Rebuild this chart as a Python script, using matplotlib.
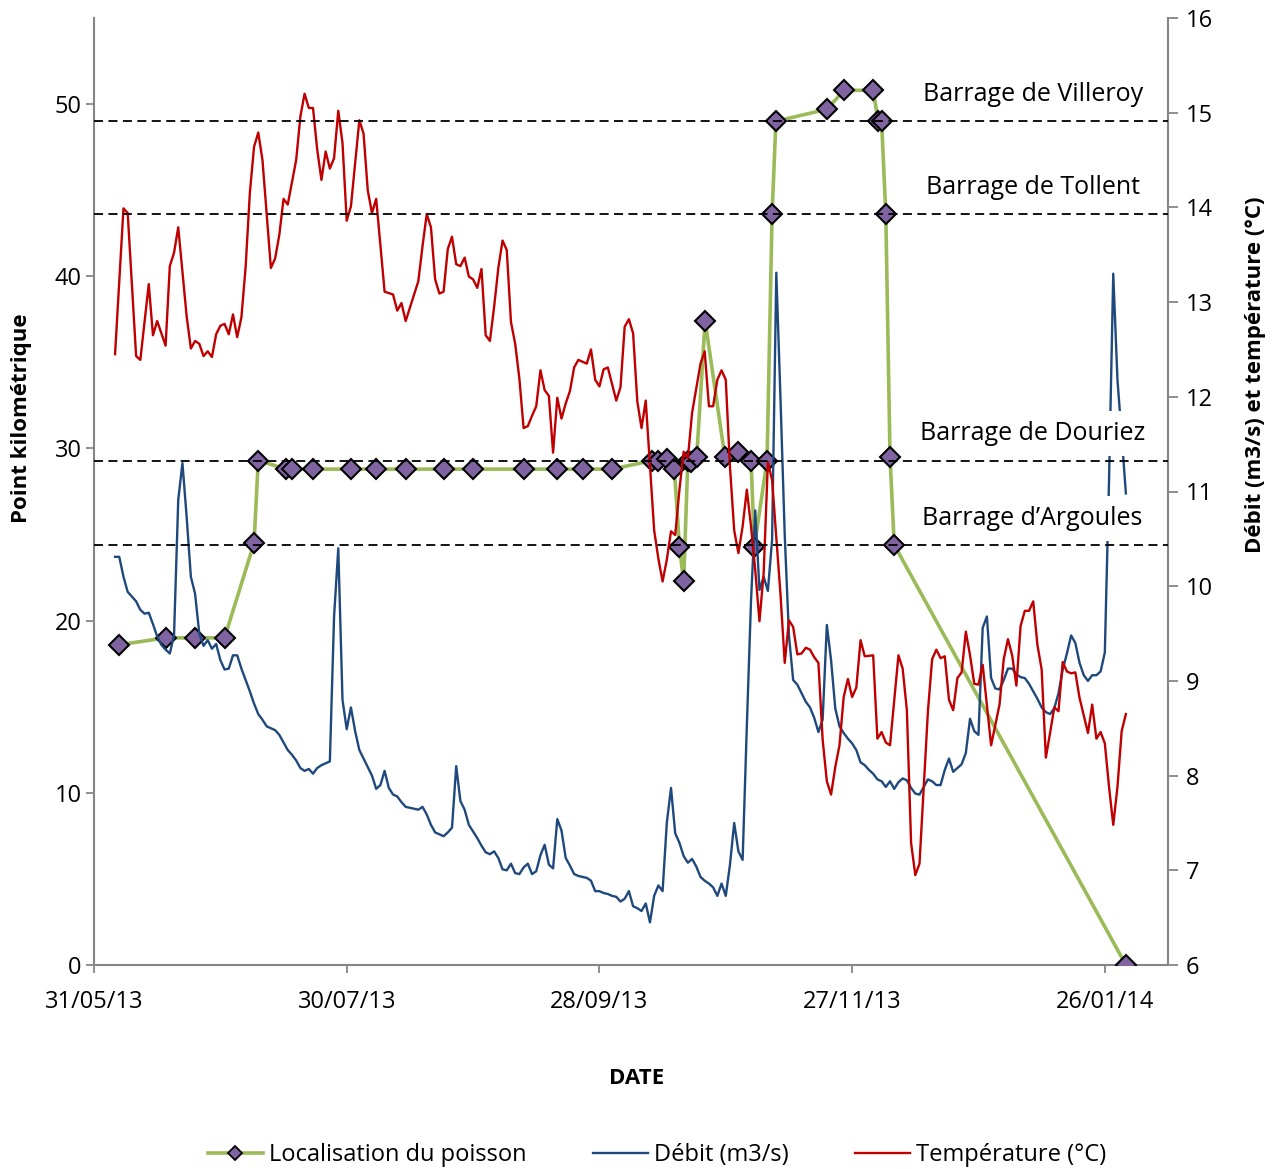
import numpy as np
import matplotlib
matplotlib.use("Agg")
import matplotlib.pyplot as plt
import matplotlib.dates as mdates
from matplotlib.lines import Line2D
from matplotlib.transforms import blended_transform_factory

plt.rcParams['font.family'] = ['Open Sans', 'DejaVu Sans']

# Origine des jours : 31/05/13
debut = np.datetime64('2013-05-31T00:00')

# Localisation du poisson (jours depuis le 31/05/13, point kilométrique)
poisson_jour = [6, 17, 24, 31, 38, 39, 45.7, 46.9, 52, 61, 67, 74, 83, 90, 102, 110, 116, 123,
                132.6, 133.8, 136, 137.8, 139, 140, 141, 141.8, 143.1, 145.1, 149.8, 153, 156,
                156.8, 159.8, 161, 161.9, 174, 178.1, 185, 186.2, 187, 188, 189, 190, 245]
poisson_pk = [18.6, 19.0, 19.0, 19.0, 24.5, 29.3, 28.8, 28.8, 28.8, 28.8, 28.8, 28.8, 28.8, 28.8,
              28.8, 28.8, 28.8, 28.8, 29.3, 29.3, 29.4, 28.8, 24.3, 22.3, 29.3, 29.2, 29.5, 37.4,
              29.5, 29.8, 29.3, 24.3, 29.3, 43.6, 49.0, 49.7, 50.8, 50.8, 49.0, 49.0, 43.6, 29.5,
              24.4, 0.0]

# Débit journalier (m3/s), du jour 5 au jour 245
debit_premier_jour = 5
debit = [10.31, 10.31, 10.10, 9.94, 9.89, 9.84, 9.75, 9.71, 9.72, 9.60,
         9.47, 9.38, 9.33, 9.29, 9.48, 10.91, 11.30, 10.73, 10.10, 9.92,
         9.50, 9.37, 9.43, 9.34, 9.39, 9.22, 9.12, 9.13, 9.27, 9.27,
         9.13, 9.01, 8.89, 8.76, 8.65, 8.59, 8.52, 8.50, 8.48, 8.43,
         8.35, 8.27, 8.22, 8.16, 8.08, 8.05, 8.07, 8.02, 8.08, 8.11,
         8.13, 8.15, 9.68, 10.40, 8.80, 8.49, 8.72, 8.47, 8.27, 8.18,
         8.09, 8.00, 7.86, 7.90, 8.05, 7.87, 7.80, 7.78, 7.72, 7.67,
         7.66, 7.65, 7.64, 7.67, 7.59, 7.48, 7.40, 7.38, 7.36, 7.40,
         7.45, 8.10, 7.73, 7.64, 7.48, 7.41, 7.34, 7.26, 7.19, 7.17,
         7.20, 7.13, 7.01, 7.00, 7.07, 6.97, 6.96, 7.03, 7.07, 6.96,
         6.99, 7.16, 7.27, 7.06, 7.02, 7.54, 7.42, 7.13, 7.05, 6.96,
         6.94, 6.93, 6.92, 6.89, 6.78, 6.78, 6.76, 6.75, 6.73, 6.72,
         6.67, 6.70, 6.78, 6.62, 6.60, 6.57, 6.65, 6.45, 6.73, 6.84,
         6.78, 7.50, 7.87, 7.39, 7.29, 7.15, 7.08, 7.12, 7.04, 6.93,
         6.89, 6.86, 6.82, 6.73, 6.86, 6.73, 7.06, 7.50, 7.20, 7.11,
         8.52, 9.85, 10.80, 9.96, 10.10, 9.95, 10.49, 13.31, 11.97, 10.54,
         9.48, 9.01, 8.96, 8.87, 8.78, 8.72, 8.61, 8.46, 8.59, 9.59,
         9.22, 8.71, 8.52, 8.45, 8.39, 8.34, 8.27, 8.14, 8.11, 8.06,
         8.02, 7.96, 7.94, 7.88, 7.94, 7.86, 7.93, 7.97, 7.95, 7.87,
         7.81, 7.80, 7.88, 7.96, 7.94, 7.90, 7.90, 8.06, 8.18, 8.04,
         8.08, 8.12, 8.24, 8.60, 8.47, 8.43, 9.56, 9.68, 9.03, 8.92,
         8.91, 9.01, 9.13, 9.13, 9.07, 9.04, 9.03, 8.97, 8.89, 8.81,
         8.72, 8.67, 8.65, 8.71, 8.87, 9.12, 9.29, 9.48, 9.40, 9.19,
         9.06, 9.00, 9.06, 9.06, 9.10, 9.30, 11.12, 13.30, 12.18, 11.59,
         10.98]

# Température (°C)
temp_jour = [5, 7, 8, 10, 11, 13, 14, 15, 17, 18, 19, 20, 22, 23, 24, 25, 26, 27, 28, 29,
             30, 31, 32, 33, 34, 35, 36, 37, 38, 39, 40, 42, 43, 44, 45, 46, 48, 49, 50, 51,
             52, 53, 54, 55, 56, 57, 58, 59, 60, 61, 63, 64, 65, 66, 67, 69, 71, 72, 73, 74,
             77, 78, 79, 80, 81, 82, 83, 84, 85, 86, 87, 88, 89, 90, 91, 92, 93, 94, 95, 96,
             97, 98, 99, 100, 101, 102, 103, 104, 105, 106, 107, 108, 109, 110, 111, 112, 113,
             114, 115, 117, 118, 119, 120, 121, 122, 124, 125, 126, 127, 128, 129, 130, 131,
             133, 134, 135, 136, 137, 138, 139, 140, 141, 142, 144, 145, 146, 147, 148, 149,
             150, 151, 152, 153, 154, 155, 156, 157, 158, 159, 160, 161, 163, 164, 165, 166,
             167, 168, 169, 170, 171, 172, 173, 174, 175, 176, 177, 178, 179, 180, 181, 182,
             183, 185, 186, 187, 188, 189, 191, 192, 193, 194, 195, 196, 198, 199, 200, 201,
             202, 203, 204, 205, 206, 207, 208, 209, 210, 211, 213, 215, 216, 217, 218, 219,
             220, 221, 222, 223, 224, 225, 226, 227, 228, 229, 230, 231, 232, 233, 234, 236,
             237, 238, 239, 240, 241, 242, 243, 244, 245]
temp = [12.45, 13.99, 13.94, 12.43, 12.39, 13.19, 12.65, 12.80, 12.54, 13.38, 13.52, 13.79,
        12.85, 12.51, 12.59, 12.56, 12.43, 12.48, 12.42, 12.66,
        12.75, 12.77, 12.66, 12.87, 12.63, 12.84, 13.37, 14.15, 14.64, 14.79, 14.50, 13.36,
        13.46, 13.71, 14.09, 14.03, 14.50, 14.96, 15.20, 15.05,
        15.05, 14.61, 14.29, 14.59, 14.41, 14.52, 15.02, 14.68, 13.86, 14.01, 14.92, 14.78,
        14.18, 13.94, 14.09, 13.11, 13.08, 12.91, 12.99, 12.80,
        13.22, 13.59, 13.93, 13.79, 13.24, 13.09, 13.11, 13.56, 13.69, 13.40, 13.38, 13.47,
        13.27, 13.24, 13.15, 13.35, 12.65, 12.59, 12.95, 13.36,
        13.65, 13.55, 12.79, 12.56, 12.19, 11.67, 11.69, 11.80, 11.90, 12.28, 12.07, 12.01,
        11.41, 11.99, 11.77, 11.93, 12.06,
        12.31, 12.39, 12.35, 12.50, 12.18, 12.11, 12.29, 12.31, 11.96, 12.10, 12.74, 12.82,
        12.67, 11.95, 11.67, 11.96,
        10.59, 10.29, 10.05, 10.28, 10.58, 10.54, 11.02, 11.42, 11.35, 11.83, 12.35, 12.48,
        11.90, 11.90, 12.18, 12.28,
        12.18, 11.26, 10.59, 10.35, 10.63, 11.02, 10.63, 10.17, 9.63, 10.14, 11.31, 11.12,
        9.91, 9.19, 9.64, 9.57,
        9.28, 9.29, 9.35, 9.33, 9.25, 9.19, 8.38, 7.94, 7.80, 8.09, 8.32, 8.83, 9.02, 8.83,
        8.93, 9.43,
        9.26, 9.27, 8.39, 8.46, 8.35, 8.32, 9.27, 9.13, 8.69, 7.29, 6.95, 7.07, 8.68, 9.23,
        9.33, 9.24,
        9.26, 8.80, 8.69, 9.03, 9.09, 9.52, 9.27, 8.97, 8.96, 9.17, 8.32, 8.75, 9.23, 9.44,
        9.27, 8.95,
        9.58, 9.74, 9.74, 9.84, 9.38, 9.12, 8.19, 8.45, 8.72, 8.68, 9.20, 9.10, 9.08, 9.09,
        8.82, 8.45,
        8.75, 8.39, 8.46, 8.34, 7.88, 7.48, 7.88, 8.47, 8.65]

# Barrages (point kilométrique)
barrages = ['Barrage de Villeroy', 'Barrage de Tollent', 'Barrage de Douriez', 'Barrage d\u2019Argoules']
barrages_pk = [49.0, 43.6, 29.3, 24.4]

date_ticks = [0, 60, 120, 180, 240]


def en_dates(jours):
    return debut + (np.asarray(jours, dtype=float) * 1440).round().astype('timedelta64[m]')


vert = '#9BBB59'
violet = '#8064A2'
bleu = '#1F497D'
rouge = '#C00000'
gris = '#868686'

fig = plt.figure(figsize=(12.8, 11.69), dpi=100)
ax = fig.add_axes([94 / 1280, 1 - 965 / 1169, (1168 - 94) / 1280, (965 - 18) / 1169])
ax2 = ax.twinx()

debit_jour = np.arange(debit_premier_jour, debit_premier_jour + len(debit))

l1, = ax.plot(en_dates(poisson_jour), poisson_pk, color=vert, lw=2.6, marker='D', ms=10,
              mfc=violet, mec='black', mew=1.5, zorder=3)
l2, = ax2.plot(en_dates(debit_jour), debit, color=bleu, lw=1.7)
l3, = ax2.plot(en_dates(temp_jour), temp, color=rouge, lw=1.7)

ax.set_ylim(0, 55)
ax.set_yticks(range(0, 51, 10))
ax2.set_ylim(6, 16)
ax2.set_yticks(range(6, 17))
ax.set_xlim(en_dates([0])[0], en_dates([255])[0])
ax.set_xticks(en_dates(date_ticks))
ax.xaxis.set_major_formatter(mdates.DateFormatter('%d/%m/%y'))

for a in (ax, ax2):
    for s in a.spines.values():
        s.set_visible(False)
ax.spines['left'].set_visible(True)
ax.spines['bottom'].set_visible(True)
ax2.spines['right'].set_visible(True)
for s in (ax.spines['left'], ax.spines['bottom'], ax2.spines['right']):
    s.set_color(gris)
    s.set_linewidth(1.5)

ax.tick_params(axis='y', labelsize=17, length=6, width=1.3, color=gris, pad=3)
ax.tick_params(axis='x', labelsize=17, length=6, width=1.3, color=gris, pad=12)
ax2.tick_params(axis='y', labelsize=17, length=7, width=1.3, color=gris, pad=6)

# Barrages : lignes pointillées et étiquettes
trans = blended_transform_factory(ax2.transAxes, ax.transData)
for nom, pk in zip(barrages, barrages_pk):
    ax2.add_artist(Line2D([0, 1], [pk, pk], transform=trans, color='black', lw=1.3,
                          ls=(0, (5, 3)), zorder=6))
    ax2.text(0.874, pk + 1.55, nom, transform=trans, ha='center', va='center', fontsize=18,
             bbox=dict(boxstyle='square,pad=0.4', fc='white', ec='none'), zorder=5)

fig.text(22 / 1280, 1 - 418 / 1169, 'Point kilométrique', rotation=90, ha='center', va='center',
         fontsize=16, fontweight='bold')
fig.text(1255 / 1280, 1 - 375 / 1169, 'Débit (m3/s) et température (°C)', rotation=90,
         ha='center', va='center', fontsize=16, fontweight='bold')
fig.text(637 / 1280, 1 - 1079 / 1169, 'DATE', ha='center', va='center', fontsize=16,
         fontweight='bold')

h1 = Line2D([], [], color=vert, lw=2.6, marker='D', ms=7, mfc=violet, mec='black', mew=1.3)
fig.legend([h1, l2, l3], ['Localisation du poisson', 'Débit (m3/s)', 'Température (°C)'],
           loc='center', bbox_to_anchor=(657 / 1280, 1 - 1155 / 1169), ncol=3, frameon=False,
           fontsize=17, handlelength=2.35, handletextpad=0.25, columnspacing=2.8)

fig.savefig('out.png', dpi=100)
